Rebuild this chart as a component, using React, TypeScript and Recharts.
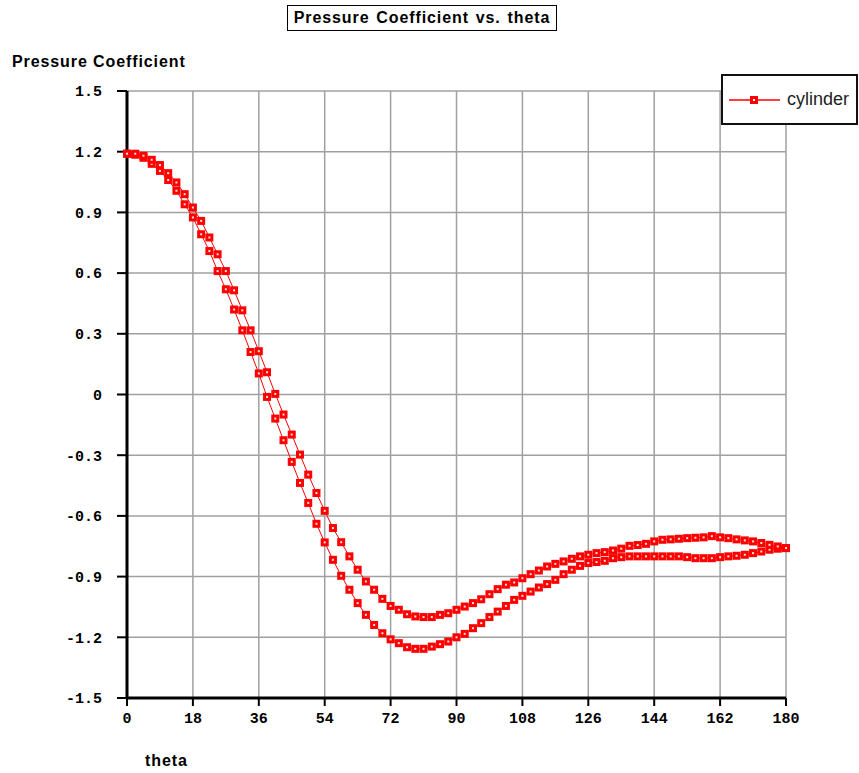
import React from "react";
import { CartesianGrid, Line, LineChart, XAxis, YAxis } from "recharts";

// theta grid, 2.25 deg steps from 0 to 180 (81 stations per branch)
const thetaStep = 2.25;

// lower branch (deeper suction peak), theta 0 -> 180
const cpLower = [
  1.19, 1.185, 1.17, 1.14, 1.105, 1.06, 1.007, 0.94, 0.875, 0.792,
  0.709, 0.61, 0.52, 0.42, 0.317, 0.21, 0.104, -0.012, -0.119, -0.226,
  -0.333, -0.437, -0.536, -0.639, -0.731, -0.817, -0.896, -0.965, -1.031, -1.089,
  -1.139, -1.18, -1.21, -1.229, -1.249, -1.257, -1.257, -1.246, -1.234, -1.221,
  -1.2, -1.183, -1.155, -1.13, -1.1, -1.073, -1.045, -1.015, -0.995, -0.974,
  -0.954, -0.937, -0.916, -0.888, -0.866, -0.847, -0.833, -0.828, -0.822, -0.809,
  -0.804, -0.8, -0.8, -0.8, -0.8, -0.8, -0.8, -0.8, -0.804, -0.809,
  -0.809, -0.809, -0.804, -0.8, -0.797, -0.792, -0.784, -0.776, -0.767, -0.762,
  -0.759,
];

// upper branch (shallower suction peak), theta 0 -> 180
const cpUpper = [
  1.19, 1.19, 1.18, 1.16, 1.134, 1.094, 1.048, 0.99, 0.924, 0.858,
  0.776, 0.693, 0.61, 0.515, 0.416, 0.317, 0.214, 0.11, 0.003, -0.099,
  -0.198, -0.297, -0.396, -0.487, -0.575, -0.66, -0.73, -0.8, -0.866, -0.924,
  -0.965, -1.01, -1.045, -1.064, -1.086, -1.097, -1.1, -1.1, -1.089, -1.081,
  -1.064, -1.048, -1.031, -1.012, -0.987, -0.962, -0.94, -0.929, -0.908, -0.888,
  -0.87, -0.85, -0.837, -0.825, -0.812, -0.8, -0.792, -0.784, -0.779, -0.771,
  -0.762, -0.748, -0.744, -0.738, -0.726, -0.718, -0.716, -0.713, -0.71, -0.708,
  -0.706, -0.7, -0.706, -0.71, -0.716, -0.721, -0.726, -0.734, -0.743, -0.751,
  -0.759,
];

const xTicks = [0, 18, 36, 54, 72, 90, 108, 126, 144, 162, 180];
const yTicks = [1.5, 1.2, 0.9, 0.6, 0.3, 0, -0.3, -0.6, -0.9, -1.2, -1.5];

// one closed loop: lower branch out, upper branch back
const data = [
  ...cpLower.map((cp, i) => ({ theta: i * thetaStep, cp })),
  ...cpUpper.map((cp, i) => ({ theta: i * thetaStep, cp })).reverse(),
];

const RED = "#ff0000";
const FONT = "'Liberation Sans', Arial, sans-serif";
const MONO = "'Liberation Mono', 'DejaVu Sans Mono', monospace";

function SquareDot(props: any) {
  const { cx, cy, index } = props;
  if (cx == null || cy == null) return null;
  return (
    <g key={`d${index}`}>
      <rect x={cx - 4} y={cy - 4} width={8} height={8} fill={RED} />
      <rect x={cx - 1} y={cy - 1} width={2} height={2} fill="#ffe0e0" />
    </g>
  );
}

const tickStyle = { fill: "#000", fontSize: 15, fontWeight: 700, fontFamily: MONO };
const labelStyle = { fontSize: 16, fontWeight: 700, color: "#000", letterSpacing: 0.9 };

export default function App() {
  return (
    <div style={{ position: "absolute", left: 0, top: 0, width: 859, height: 773, background: "#fff", fontFamily: FONT }}>
      <LineChart width={859} height={773} data={data} margin={{ top: 91, right: 73, left: 0, bottom: 45 }}>
        <CartesianGrid stroke="#a0a0a0" strokeWidth={1.5} />
        <XAxis
          type="number"
          dataKey="theta"
          domain={[0, 180]}
          ticks={xTicks}
          height={30}
          tickSize={8}
          tickMargin={6}
          axisLine={{ stroke: "#000", strokeWidth: 3 }}
          tickLine={{ stroke: "#000", strokeWidth: 2 }}
          tick={tickStyle}
          interval={0}
        />
        <YAxis
          type="number"
          domain={[-1.5, 1.5]}
          ticks={yTicks}
          width={127}
          tickSize={10}
          tickMargin={15}
          axisLine={{ stroke: "#000", strokeWidth: 3 }}
          tickLine={{ stroke: "#000", strokeWidth: 2 }}
          tick={tickStyle}
          tickFormatter={(v: number) => String(v)}
          interval={0}
        />
        <Line
          type="linear"
          dataKey="cp"
          stroke={RED}
          strokeWidth={1}
          dot={SquareDot}
          activeDot={false}
          isAnimationActive={false}
        />
      </LineChart>

      <div
        style={{
          position: "absolute", left: 287, top: 5, width: 268, height: 24,
          border: "1px solid #000", display: "flex", alignItems: "center", justifyContent: "center",
          background: "#fff", ...labelStyle, wordSpacing: 1.5, whiteSpace: "nowrap",
        }}
      >
        Pressure Coefficient vs. theta
      </div>

      <div style={{ position: "absolute", left: 12, top: 53, ...labelStyle, whiteSpace: "nowrap" }}>
        Pressure Coefficient
      </div>

      <div style={{ position: "absolute", left: 145, top: 752, ...labelStyle }}>
        theta
      </div>

      <div
        style={{
          position: "absolute", left: 721, top: 74, width: 133, height: 47,
          border: "2px solid #111", background: "#fff", display: "flex", alignItems: "center",
        }}
      >
        <svg width={58} height={12} style={{ marginLeft: 6 }}>
          <line x1={0} y1={6} x2={51} y2={6} stroke={RED} strokeWidth={1.5} />
          <rect x={21} y={2} width={8} height={8} fill={RED} />
          <rect x={24} y={5} width={2} height={2} fill="#fff" />
        </svg>
        <span style={{ fontSize: 18, color: "#222" }}>cylinder</span>
      </div>
    </div>
  );
}
